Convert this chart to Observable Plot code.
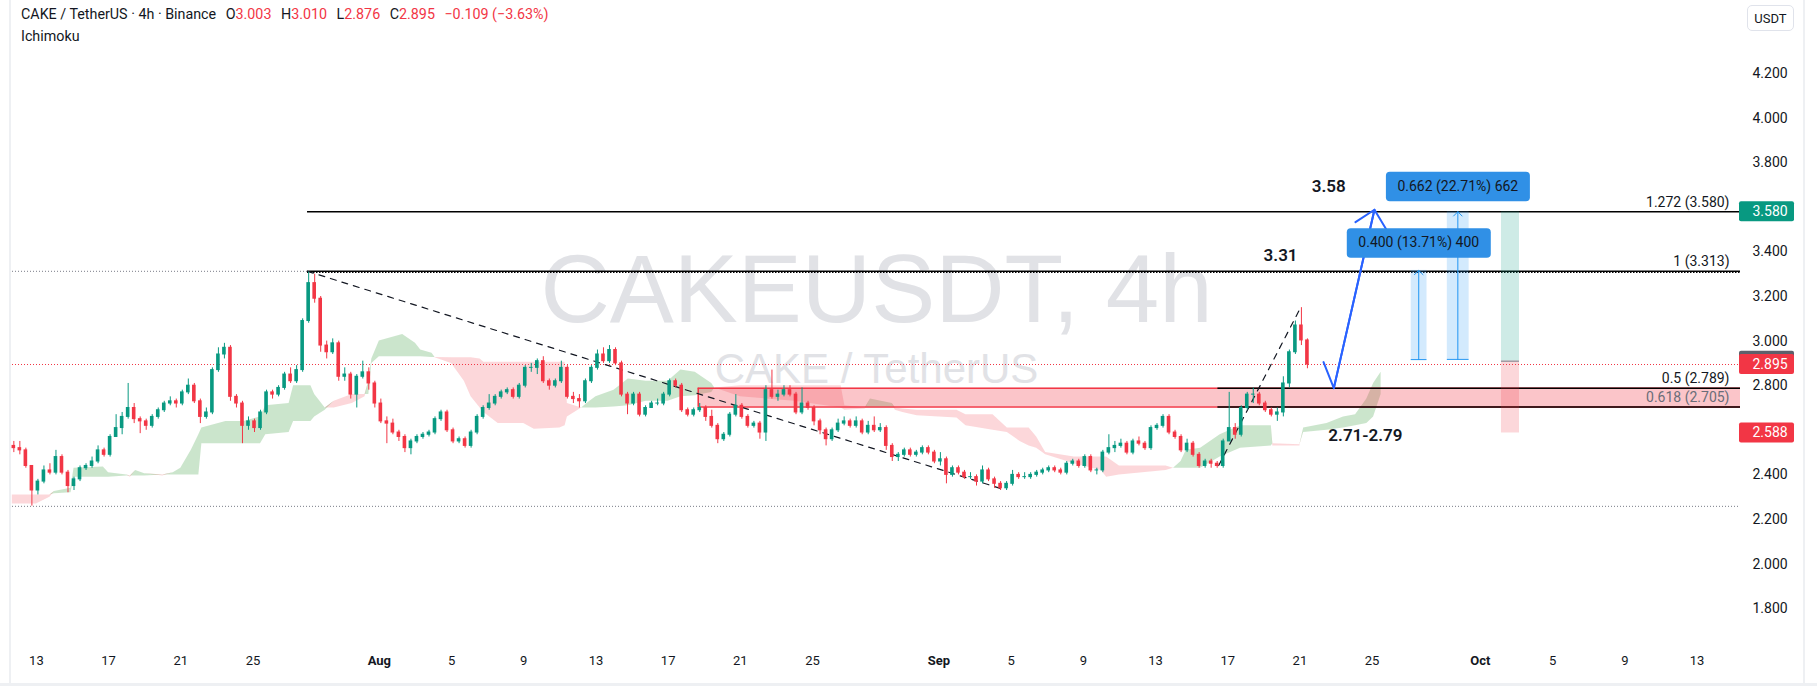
<!DOCTYPE html>
<html><head><meta charset="utf-8">
<script src="https://cdn.jsdelivr.net/npm/d3@7"></script>
<script src="https://cdn.jsdelivr.net/npm/@observablehq/plot@0.6"></script>
<style>
body{margin:0;background:#fff;}
#wrap{position:relative;width:1817px;height:686px;overflow:hidden;font-family:Roboto,"Noto Sans",sans-serif;background:#fff}
#chart{position:absolute;left:0;top:0}
#hdr{position:absolute;left:21px;top:3px;font-size:14.3px;color:#131722;line-height:22px;white-space:pre;}
#hdr .r{color:#f23645}
#hdr .g{margin-left:9.5px}
#usdt{position:absolute;left:1747px;top:5px;width:47px;height:26px;border:1px solid #e0e3eb;border-radius:5px;font-size:13px;line-height:26px;text-align:center;color:#131722;background:#fff;box-sizing:border-box}
.frame{position:absolute;background:#eef0f3}
</style></head><body><div id="wrap"><div id="chart"></div>
<div class="frame" style="left:9px;top:0;width:2px;height:686px"></div>
<div class="frame" style="left:1803px;top:0;width:2px;height:686px"></div>
<div class="frame" style="left:0;top:683px;width:1817px;height:3px"></div>
<div id="hdr"></div><div id="usdt"></div></div>
<script>
// ---------- header ----------
const symbolInfo = "CAKE / TetherUS · 4h · Binance";
const ohlcLabels = ["O", "H", "L", "C"];
const ohlcValues = ["3.003", "3.010", "2.876", "2.895"];
const changeText = "−0.109 (−3.63%)";
const indicatorName = "Ichimoku";
const axisUnit = "USDT";

// ---------- candles (8h aggregation, first candle 2025-07-11 16:00 UTC) ----------
const candleStart = "2025-07-11T16:00Z";
const candleHours = 8;
const firstOpen = 2.53;
const closes = [
  2.52,                 // Jul 11
  2.51,2.44,2.33, 2.37,2.42,2.41, 2.48,2.41,2.35, 2.38,2.43,2.44, 2.46,2.51,2.49, // Jul 12-16
  2.57,2.61,2.66, 2.70,2.65,2.64, 2.62,2.66,2.69, 2.72,2.73,2.72, 2.77,2.80,2.73, // Jul 17-21
  2.66,2.68,2.87, 2.94,2.97,2.75, 2.72,2.62,2.64, 2.61,2.68,2.77, 2.76,2.79,2.85, // Jul 22-26
  2.82,2.87,3.09, 3.26,3.19,2.98, 2.95,2.99,2.84, 2.85,2.76,2.84, 2.86,2.81,2.72, // Jul 27-31
  2.64,2.63,2.59, 2.57,2.52,2.55, 2.57,2.58,2.59, 2.65,2.68,2.60, 2.55,2.56,2.53, // Aug 1-5
  2.59,2.66,2.70, 2.72,2.75,2.77, 2.78,2.75,2.80, 2.88,2.88,2.91, 2.82,2.80,2.82, // Aug 6-10
  2.88,2.75,2.74, 2.73,2.82,2.88, 2.94,2.91,2.96, 2.90,2.76,2.72, 2.76,2.67,2.70, // Aug 11-15
  2.72,2.72,2.76, 2.82,2.80,2.69, 2.67,2.69,2.70, 2.66,2.62,2.56, 2.58,2.67,2.71, // Aug 16-20
  2.66,2.62,2.63, 2.59,2.78,2.75, 2.76,2.78,2.76, 2.68,2.72,2.70, 2.64,2.60,2.56, // Aug 21-25
  2.60,2.63,2.64, 2.62,2.64,2.59, 2.62,2.60,2.61, 2.53,2.48,2.49, 2.51,2.49,2.50, // Aug 26-30
  2.52,2.50,2.46,                                                                 // Aug 31
  2.47,2.40,2.43, 2.41,2.39,2.39, 2.37,2.42,2.38, 2.36,2.34,2.36, 2.40,2.39,2.39, // Sep 1-5
  2.40,2.41,2.42, 2.43,2.42,2.41, 2.45,2.46,2.44, 2.48,2.42,2.42, 2.50,2.52,2.53, // Sep 6-10
  2.54,2.50,2.55, 2.54,2.52,2.61, 2.62,2.66,2.59, 2.57,2.51,2.54, 2.49,2.44,2.46, // Sep 11-15
  2.45,2.44,2.55, 2.61,2.58,2.70, 2.76,2.76,2.72, 2.69,2.67,2.68, 2.81,2.95,3.07, // Sep 16-20
  3.003,2.895                                                                     // Sep 21
];
const highs = [
  2.55,
  2.55,2.52,2.44, 2.38,2.44,2.45, 2.51,2.49,2.42, 2.39,2.44,2.45, 2.48,2.53,2.52,
  2.58,2.67,2.68, 2.81,2.72,2.66, 2.65,2.67,2.70, 2.73,2.75,2.74, 2.78,2.83,2.81,
  2.74,2.70,2.88, 2.97,2.99,2.98, 2.76,2.73,2.66, 2.65,2.69,2.78, 2.78,2.80,2.86,
  2.88,2.89,3.10, 3.31,3.30,3.20, 3.00,3.01,3.00, 2.88,2.86,2.85, 2.91,2.88,2.82,
  2.74,2.66,2.65, 2.60,2.58,2.56, 2.58,2.59,2.60, 2.66,2.69,2.69, 2.61,2.57,2.57,
  2.60,2.67,2.71, 2.76,2.76,2.78, 2.79,2.79,2.81, 2.89,2.90,2.92, 2.93,2.83,2.83,
  2.91,2.89,2.77, 2.76,2.83,2.89, 2.96,2.97,2.98, 2.97,2.91,2.77, 2.77,2.77,2.71,
  2.73,2.74,2.77, 2.83,2.83,2.81, 2.70,2.70,2.72, 2.71,2.69,2.63, 2.59,2.68,2.76,
  2.72,2.67,2.64, 2.64,2.80,2.87, 2.78,2.80,2.80, 2.77,2.79,2.73, 2.71,2.65,2.61,
  2.61,2.65,2.66, 2.65,2.66,2.65, 2.64,2.66,2.63, 2.62,2.54,2.50, 2.52,2.52,2.51,
  2.53,2.53,2.51,
  2.50,2.48,2.44, 2.44,2.42,2.41, 2.40,2.44,2.43, 2.39,2.37,2.37, 2.42,2.41,2.41,
  2.41,2.42,2.43, 2.44,2.44,2.43, 2.46,2.47,2.47, 2.49,2.49,2.43, 2.51,2.58,2.55,
  2.56,2.55,2.56, 2.57,2.55,2.62, 2.63,2.67,2.67, 2.60,2.58,2.56, 2.55,2.50,2.47,
  2.47,2.46,2.56, 2.77,2.63,2.71, 2.77,2.79,2.77, 2.73,2.70,2.70, 2.84,2.96,3.09,
  3.15,3.010
];
const lows = [
  2.50,
  2.49,2.43,2.26, 2.31,2.36,2.40, 2.40,2.40,2.32, 2.33,2.37,2.42, 2.43,2.45,2.48,
  2.48,2.58,2.58, 2.65,2.63,2.585, 2.60,2.61,2.65, 2.68,2.71,2.70, 2.71,2.76,2.72,
  2.63,2.65,2.67, 2.86,2.92,2.73, 2.70,2.54,2.60, 2.59,2.60,2.67, 2.74,2.75,2.78,
  2.81,2.81,2.86, 3.08,3.17,2.95, 2.92,2.94,2.82, 2.82,2.74,2.70, 2.83,2.78,2.70,
  2.63,2.54,2.58, 2.55,2.50,2.49, 2.54,2.56,2.57, 2.58,2.64,2.59, 2.54,2.54,2.52,
  2.52,2.58,2.65, 2.69,2.71,2.74, 2.76,2.74,2.74, 2.79,2.86,2.85, 2.81,2.78,2.79,
  2.81,2.74,2.72, 2.70,2.72,2.81, 2.87,2.90,2.90, 2.89,2.75,2.67, 2.71,2.66,2.66,
  2.70,2.71,2.71, 2.75,2.79,2.68, 2.66,2.66,2.68, 2.64,2.61,2.54, 2.55,2.57,2.66,
  2.65,2.61,2.61, 2.56,2.55,2.74, 2.73,2.75,2.75, 2.67,2.67,2.69, 2.62,2.58,2.53,
  2.55,2.59,2.62, 2.61,2.61,2.58, 2.58,2.59,2.59, 2.51,2.46,2.46, 2.48,2.48,2.48,
  2.49,2.49,2.45,
  2.44,2.36,2.39, 2.40,2.38,2.38, 2.35,2.36,2.37, 2.34,2.33,2.33, 2.35,2.38,2.38,
  2.38,2.39,2.40, 2.41,2.41,2.40, 2.40,2.44,2.43, 2.43,2.41,2.40, 2.41,2.49,2.50,
  2.52,2.49,2.49, 2.53,2.51,2.51, 2.60,2.61,2.58, 2.56,2.50,2.50, 2.48,2.43,2.43,
  2.43,2.43,2.43, 2.55,2.56,2.57, 2.69,2.72,2.71, 2.68,2.66,2.64, 2.66,2.79,2.94,
  2.98,2.876
];

// ---------- Ichimoku cloud (leading spans A and B) ----------
const cloudTimes = ["2025-07-11T16:00Z","2025-07-13T00:00Z","2025-07-13T18:00Z","2025-07-14T00:00Z","2025-07-14T22:00Z","2025-07-15T02:00Z","2025-07-16T17:00Z","2025-07-17T00:00Z","2025-07-18T00:00Z","2025-07-18T05:00Z","2025-07-18T12:00Z","2025-07-19T00:00Z","2025-07-20T00:00Z","2025-07-20T14:00Z","2025-07-21T00:00Z","2025-07-21T14:00Z","2025-07-22T00:00Z","2025-07-22T04:00Z","2025-07-23T12:00Z","2025-07-24T12:00Z","2025-07-25T10:00Z","2025-07-25T17:00Z","2025-07-27T00:00Z","2025-07-27T06:00Z","2025-07-28T05:00Z","2025-07-28T10:00Z","2025-07-29T00:00Z","2025-07-29T12:00Z","2025-07-30T12:00Z","2025-07-31T05:00Z","2025-07-31T10:00Z","2025-07-31T14:00Z","2025-08-01T00:00Z","2025-08-02T07:00Z","2025-08-03T00:00Z","2025-08-03T07:00Z","2025-08-03T22:00Z","2025-08-04T02:00Z","2025-08-05T00:00Z","2025-08-05T17:00Z","2025-08-06T02:00Z","2025-08-06T14:00Z","2025-08-06T19:00Z","2025-08-07T14:00Z","2025-08-09T00:00Z","2025-08-09T14:00Z","2025-08-11T00:00Z","2025-08-11T07:00Z","2025-08-11T10:00Z","2025-08-12T05:00Z","2025-08-12T12:00Z","2025-08-13T00:00Z","2025-08-14T00:00Z","2025-08-14T19:00Z","2025-08-15T19:00Z","2025-08-17T00:00Z","2025-08-17T17:00Z","2025-08-18T12:00Z","2025-08-19T10:00Z","2025-08-19T14:00Z","2025-08-21T00:00Z","2025-08-24T00:00Z","2025-08-26T14:00Z","2025-08-26T19:00Z","2025-08-27T22:00Z","2025-08-28T05:00Z","2025-08-29T10:00Z","2025-08-29T14:00Z","2025-08-30T00:00Z","2025-08-30T19:00Z","2025-09-02T00:00Z","2025-09-02T12:00Z","2025-09-04T00:00Z","2025-09-04T19:00Z","2025-09-05T12:00Z","2025-09-06T00:00Z","2025-09-06T10:00Z","2025-09-06T22:00Z","2025-09-08T12:00Z","2025-09-10T00:00Z","2025-09-10T07:00Z","2025-09-11T00:00Z","2025-09-13T14:00Z","2025-09-14T00:00Z","2025-09-14T10:00Z","2025-09-14T17:00Z","2025-09-15T12:00Z","2025-09-16T14:00Z","2025-09-17T17:00Z","2025-09-19T10:00Z","2025-09-19T12:00Z","2025-09-21T00:00Z","2025-09-21T05:00Z","2025-09-22T12:00Z","2025-09-23T10:00Z","2025-09-24T02:00Z","2025-09-24T17:00Z","2025-09-25T02:00Z","2025-09-25T12:00Z"];
const spanA = [2.27,2.27,2.30,2.325,2.34,2.43,2.435,2.41,2.40,2.39,2.42,2.405,2.395,2.41,2.43,2.51,2.58,2.61,2.64,2.64,2.66,2.71,2.72,2.80,2.80,2.76,2.70,2.70,2.72,2.75,2.82,2.92,3.00,3.03,2.99,2.96,2.945,2.925,2.90,2.82,2.75,2.70,2.68,2.63,2.63,2.605,2.61,2.62,2.66,2.70,2.72,2.75,2.78,2.83,2.82,2.82,2.87,2.86,2.81,2.79,2.75,2.73,2.70,2.69,2.695,2.74,2.72,2.69,2.68,2.665,2.655,2.62,2.60,2.59,2.55,2.53,2.52,2.49,2.45,2.42,2.39,2.40,2.42,2.43,2.46,2.51,2.52,2.58,2.62,2.62,2.53,2.53,2.61,2.63,2.66,2.67,2.74,2.81,2.86];
const spanB = [2.31,2.31,2.31,2.315,2.32,2.39,2.39,2.39,2.395,2.395,2.395,2.395,2.40,2.40,2.40,2.40,2.40,2.54,2.54,2.54,2.54,2.58,2.59,2.64,2.64,2.66,2.69,2.73,2.76,2.76,2.76,2.90,2.93,2.93,2.93,2.93,2.927,2.927,2.925,2.925,2.925,2.92,2.905,2.905,2.905,2.905,2.905,2.905,2.72,2.70,2.70,2.70,2.705,2.71,2.73,2.73,2.75,2.755,2.77,2.79,2.80,2.80,2.80,2.71,2.70,2.70,2.70,2.70,2.695,2.69,2.69,2.67,2.67,2.61,2.61,2.61,2.57,2.50,2.48,2.48,2.48,2.44,2.44,2.43,2.43,2.43,2.43,2.48,2.52,2.53,2.54,2.535,2.59,2.60,2.61,2.62,2.63,2.66,2.76];

// ---------- axes ----------
const xDomain = ["2025-07-11T16:13Z", "2025-10-15T09:50Z"];
const yDomain = [1.6439, 4.5274];
const priceTicks = [1.8, 2.0, 2.2, 2.4, 2.8, 3.0, 3.2, 3.4, 3.8, 4.0, 4.2];
const dayTicks = ["2025-07-13","2025-07-17","2025-07-21","2025-07-25","2025-08-05","2025-08-09","2025-08-13","2025-08-17","2025-08-21","2025-08-25","2025-09-05","2025-09-09","2025-09-13","2025-09-17","2025-09-21","2025-09-25","2025-10-05","2025-10-09","2025-10-13"];
const monthTicks = ["2025-08-01","2025-09-01","2025-10-01"];

// ---------- drawings ----------
const peakTime = "2025-07-28T00:30Z";
const fibPrices = [3.580, 3.313, 2.789, 2.705];
const fibStarts = [peakTime, peakTime, "2025-09-16T11:00Z", "2025-09-16T11:00Z"];
const fibLabels = ["1.272 (3.580)", "1 (3.313)", "0.5 (2.789)", "0.618 (2.705)"];
const fibLabelColors = ["#131722", "#131722", "#131722", "#6a6d78"];
const zoneStart = "2025-08-18T16:00Z";
const zoneLow = 2.705, zoneHigh = 2.789;
const currentPrice = 2.895;
const rangeLow = 2.259;
const trendIds = ["a", "a", "b", "b"];
const trendTimes = [peakTime, "2025-09-04T14:00Z", "2025-09-16T12:00Z", "2025-09-21T00:45Z"];
const trendPrices = [3.313, 2.335, 2.442, 3.149];
const pathTimes = ["2025-09-22T07:26Z", "2025-09-22T21:07Z", "2025-09-25T03:07Z"];
const pathPrices = [2.906, 2.789, 3.589];
const noteTexts = ["3.58", "3.31", "2.71-2.79"];
const noteTimes = ["2025-09-22T14:24Z", "2025-09-19T22:19Z", "2025-09-24T15:07Z"];
const notePrices = [3.693, 3.382, 2.577];
const rangeStarts = ["2025-09-27T04:00Z", "2025-09-29T04:00Z"];
const rangeEnds = ["2025-09-28T01:00Z", "2025-09-30T09:00Z"];
const rangeMids = ["2025-09-27T14:00Z", "2025-09-29T18:00Z"];
const rangeFrom = [2.917, 2.918];
const rangeTo = [3.317, 3.580];
const rangeLabels = ["0.400 (13.71%) 400", "0.662 (22.71%) 662"];
const rangeLabelPrices = [3.440, 3.693];
const longStart = "2025-10-02T04:00Z", longEnd = "2025-10-03T04:00Z";
const longEntry = 2.91, longTarget = 3.58, longStop = 2.588;
const tagPrices = [3.580, 2.910, 2.895, 2.588];
const tagColors = ["#089981", "#5d606b", "#f23645", "#f23645"];
const watermarkMain = "CAKEUSDT, 4h";
const watermarkSub = "CAKE / TetherUS";

// ---------- build ----------
const up = "#089981", down = "#f23645";
const H = 3600e3;
const t0 = +new Date(candleStart);
const candles = closes.map((c, i) => {
  const o = i ? closes[i - 1] : firstOpen;
  const t = new Date(t0 + i * candleHours * H + 2 * H);
  return {t, o, c, h: Math.max(highs[i], o, c), l: Math.min(lows[i], o, c), col: c >= o ? up : down};
});
const cloud = cloudTimes.map((t, i) => ({t: new Date(t), a: spanA[i], b: spanB[i]}));
const xStart = new Date(xDomain[0]), xEnd = new Date(xDomain[1]);
const fibs = fibPrices.map((p, i) => ({p, t: new Date(fibStarts[i]), label: fibLabels[i], col: fibLabelColors[i]}));
const trend = trendTimes.map((t, i) => ({t: new Date(t), p: trendPrices[i], id: trendIds[i]}));
const path = pathTimes.map((t, i) => ({t: new Date(t), p: pathPrices[i]}));
const notes = noteTexts.map((s, i) => ({s, t: new Date(noteTimes[i]), p: notePrices[i]}));
const ranges = rangeLabels.map((s, i) => ({s, x1: new Date(rangeStarts[i]), x2: new Date(rangeEnds[i]), mid: new Date(rangeMids[i]), lo: rangeFrom[i], hi: rangeTo[i], lp: rangeLabelPrices[i]}));
const tags = tagPrices.map((p, i) => ({p, col: tagColors[i], s: d3.format(".3f")(p)}));
const zone = {t1: new Date(zoneStart), lo: zoneLow, hi: zoneHigh};
const long = {x1: new Date(longStart), x2: new Date(longEnd)};
const F = "Roboto, 'Noto Sans', sans-serif";

const tagMarks = tags.flatMap(d => [
  Plot.rect([d], {x1: () => xEnd, x2: () => xEnd, y1: "p", y2: "p", insetLeft: -1, insetRight: -54, insetTop: -10, insetBottom: -10, fill: "col", rx: 2}),
  Plot.text([d], {y: "p", frameAnchor: "right", dx: 12, textAnchor: "start", text: "s", fill: "#ffffff", fontSize: 14, fontFamily: F})
]);

const chart = Plot.plot({
  width: 1817, height: 686,
  marginLeft: 12, marginRight: 77, marginTop: 0, marginBottom: 43,
  x: {type: "utc", domain: [xStart, xEnd], axis: null},
  y: {domain: yDomain, axis: null},
  color: {type: "identity"},
  style: {fontFamily: F, background: "transparent", overflow: "visible"},
  marks: [
    Plot.text([watermarkMain], {text: d => d, frameAnchor: "middle", dy: -31, fontSize: 96, fontFamily: "'Liberation Sans', Arial, sans-serif", fill: "#e1e2e6"}),
    Plot.text([watermarkSub], {text: d => d, frameAnchor: "middle", dy: 48, fontSize: 42, fontFamily: "'Liberation Sans', Arial, sans-serif", fill: "#e1e2e6"}),
    // cloud
    Plot.areaY(cloud, {x: "t", y1: "b", y2: d => Math.max(d.a, d.b), fill: "#43a047", fillOpacity: 0.28}),
    Plot.areaY(cloud, {x: "t", y1: "a", y2: d => Math.max(d.a, d.b), fill: "#f23645", fillOpacity: 0.2}),
    // support zone
    Plot.rect([zone], {x1: "t1", x2: () => xEnd, y1: "lo", y2: "hi", fill: "#f23645", fillOpacity: 0.29}),
    Plot.ruleY([zone.lo, zone.hi], {y: d => d, x1: () => zone.t1, x2: () => xEnd, stroke: "#f23645", strokeWidth: 1.5}),
    Plot.ruleX([zone], {x: "t1", y1: "lo", y2: "hi", stroke: "#f23645", strokeWidth: 1.5}),
    // dotted levels
    Plot.ruleY([fibPrices[1]], {y: d => d, x1: () => xStart, x2: () => new Date(peakTime), stroke: "#787b86", strokeDasharray: "1 2"}),
    Plot.ruleY([rangeLow], {y: d => d, x1: () => xStart, x2: () => xEnd, stroke: "#787b86", strokeDasharray: "1 2"}),
    Plot.ruleY([currentPrice], {y: d => d, x1: () => xStart, x2: () => xEnd, stroke: "#f23645", strokeDasharray: "1 2"}),
    // fib lines
    Plot.ruleY(fibs, {y: "p", x1: "t", x2: () => xEnd, stroke: "#000000", strokeWidth: 1.5}),
    Plot.ruleY([fibPrices[1]], {y: d => d, x1: () => new Date(peakTime), x2: () => xEnd, stroke: "#000000", strokeDasharray: "1.5 1.5", dy: 1.2}),
    // trend lines
    Plot.line(trend, {x: "t", y: "p", z: "id", stroke: "#131722", strokeWidth: 1.2, strokeDasharray: "6 6"}),
    // candles
    Plot.ruleX(candles, {x: "t", y1: "l", y2: "h", stroke: "col", strokeWidth: 1}),
    Plot.rect(candles, {x1: d => new Date(+d.t - 2.4 * H), x2: d => new Date(+d.t + 2.4 * H), y1: "o", y2: "c", fill: "col", insetTop: -0.5, insetBottom: -0.5}),
    // long position
    Plot.rect([long], {x1: "x1", x2: "x2", y1: () => longEntry, y2: () => longTarget, fill: up, fillOpacity: 0.2}),
    Plot.rect([long], {x1: "x1", x2: "x2", y1: () => longStop, y2: () => longEntry, fill: down, fillOpacity: 0.2}),
    Plot.ruleY([long], {y: () => longEntry, x1: "x1", x2: "x2", stroke: "#787b86"}),
    // price ranges
    Plot.rect(ranges, {x1: "x1", x2: "x2", y1: "lo", y2: "hi", fill: "#2196f3", fillOpacity: 0.2}),
    Plot.ruleY(ranges, {y: "lo", x1: "x1", x2: "x2", stroke: "#2196f3"}),
    Plot.arrow(ranges, {x1: "mid", x2: "mid", y1: "lo", y2: "hi", stroke: "#2196f3", strokeWidth: 1, headLength: 9, headAngle: 90}),
    // projected path
    Plot.line(path, {x: "t", y: "p", stroke: "#2962ff", strokeWidth: 2}),
    Plot.arrow([path], {x1: d => d[1].t, y1: d => d[1].p, x2: d => d[2].t, y2: d => d[2].p, stroke: "#2962ff", strokeWidth: 2, headLength: 17, headAngle: 88}),
    // text notes
    Plot.text(notes, {x: "t", y: "p", text: "s", fontSize: 17, fontWeight: 600, fill: "#131722"}),
    Plot.text(fibs, {y: "p", frameAnchor: "right", dx: -11, dy: -5, lineAnchor: "bottom", textAnchor: "end", text: "label", fill: "col", fontSize: 14}),
    Plot.text(ranges, {x: "mid", y: "lp", text: "s", fontSize: 14, fill: "#131722"}),
    // axes
    Plot.text(priceTicks, {y: d => d, frameAnchor: "right", dx: 12, textAnchor: "start", text: d => d3.format(".3f")(d), fill: "#131722", fontSize: 14}),
    Plot.text(dayTicks, {x: d => new Date(d + "T00:00Z"), frameAnchor: "bottom", dy: 21, text: d => String(+d.slice(8)), fill: "#131722", fontSize: 13}),
    Plot.text(monthTicks, {x: d => new Date(d + "T00:00Z"), frameAnchor: "bottom", dy: 21, text: d => d3.utcFormat("%b")(new Date(d + "T00:00Z")), fill: "#131722", fontSize: 13, fontWeight: "bold"}),
    ...tagMarks
  ]
});
document.getElementById("chart").append(chart);

// pill backgrounds behind the range labels
chart.querySelectorAll("text").forEach(t => {
  if (rangeLabels.includes(t.textContent)) {
    const b = t.getBBox();
    const r = document.createElementNS("http://www.w3.org/2000/svg", "rect");
    const w = 144, h = 29.6;
    r.setAttribute("x", b.x + b.width / 2 - w / 2);
    r.setAttribute("y", b.y + b.height / 2 - h / 2);
    r.setAttribute("width", w);
    r.setAttribute("height", h);
    r.setAttribute("rx", 4);
    r.setAttribute("fill", "#3090e6");
    const tr = t.getAttribute("transform");
    if (tr) r.setAttribute("transform", tr);
    t.parentNode.insertBefore(r, t);
  }
});

// header
const hdr = document.getElementById("hdr");
let html = symbolInfo;
ohlcLabels.forEach((l, i) => { html += `<span class="g">${l}<span class="r">${ohlcValues[i]}</span></span>`; });
html += `<span class="g r">${changeText}</span>\n${indicatorName}`;
hdr.innerHTML = html;
document.getElementById("usdt").textContent = axisUnit;
</script></body></html>
